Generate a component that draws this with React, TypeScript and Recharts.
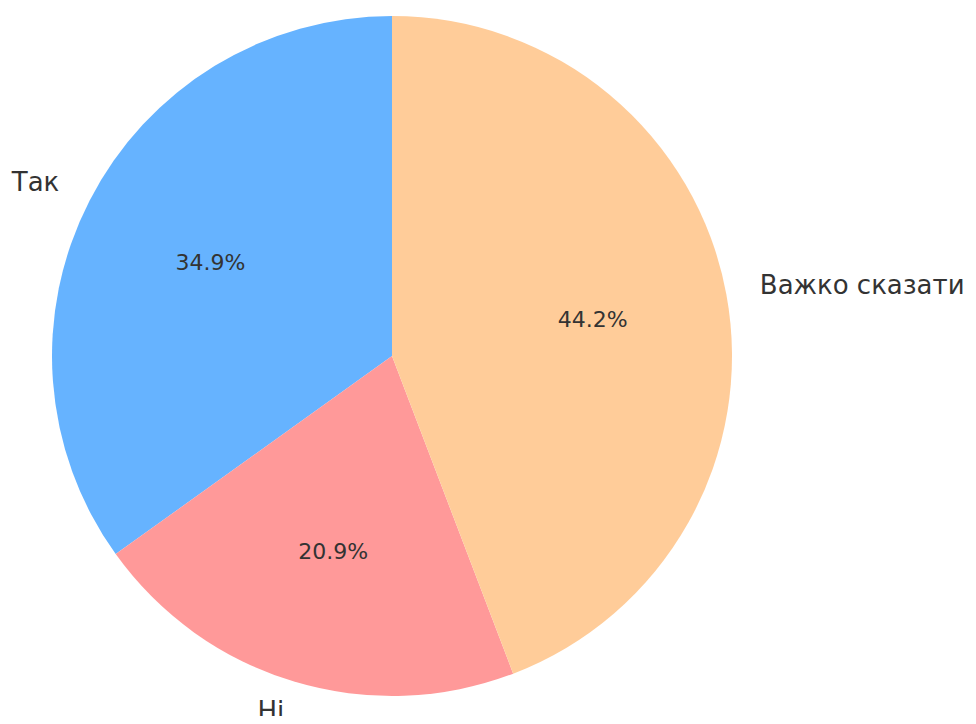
import { PieChart, Pie, Cell } from 'recharts';

const categories = ['Так', 'Ні', 'Важко сказати'];
const shares = [34.9, 20.9, 44.2];
const colors = ['#66b3ff', '#ff9999', '#ffcc99'];

const data = categories.map((name, i) => ({ name, value: shares[i] }));

const RADIAN = Math.PI / 180;
const FONT = '"DejaVu Sans", sans-serif';

// matplotlib-like labels: name at 1.1r, percent at 0.6r
// eslint-disable-next-line @typescript-eslint/no-explicit-any
const renderLabel = (props: any) => {
  const { cx, cy, midAngle, outerRadius, percent, name } = props;
  const cos = Math.cos(-midAngle * RADIAN);
  const sin = Math.sin(-midAngle * RADIAN);
  const lx = cx + outerRadius * 1.1 * cos;
  const ly = cy + outerRadius * 1.1 * sin;
  const px = cx + outerRadius * 0.6 * cos;
  const py = cy + outerRadius * 0.6 * sin;
  return (
    <g>
      <text
        x={lx}
        y={ly}
        dy={-3}
        textAnchor={cos >= 0 ? 'start' : 'end'}
        dominantBaseline="central"
        fill="#333333"
        fontSize={26}
        fontFamily={FONT}
      >
        {name}
      </text>
      <text
        x={px}
        y={py}
        textAnchor="middle"
        dominantBaseline="central"
        fill="#333333"
        fontSize={22}
        fontFamily={FONT}
      >
        {`${(percent * 100).toFixed(1)}%`}
      </text>
    </g>
  );
};

export default function App() {
  return (
    <div style={{ margin: -8, width: 976, height: 724, background: '#fff' }}>
      <PieChart width={976} height={724} style={{ overflow: 'visible' }}>
        <Pie
          data={data}
          dataKey="value"
          nameKey="name"
          cx={387}
          cy={351}
          outerRadius={340}
          startAngle={90}
          endAngle={450}
          stroke="none"
          label={renderLabel}
          labelLine={false}
          isAnimationActive={false}
        >
          {data.map((d, i) => (
            <Cell key={d.name} fill={colors[i]} />
          ))}
        </Pie>
      </PieChart>
    </div>
  );
}
